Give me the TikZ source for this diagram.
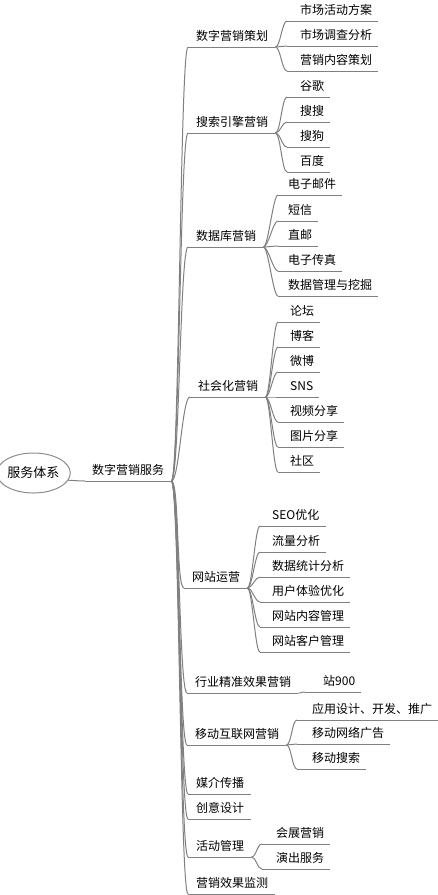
\documentclass[tikz,border=0pt]{standalone}
\usepackage{fontspec}
\newfontfamily\cjk{Noto Sans CJK SC}
\usetikzlibrary{shapes.geometric}
\definecolor{linegray}{RGB}{128,128,128}
\definecolor{rimgray}{RGB}{140,140,140}

\tikzset{
  wire/.style={draw=linegray, line width=1pt},
  link/.style={wire, to path={.. controls +(#1,0) and +(-#1,0) .. (\tikztotarget)}},
  link/.default=5,
  topic/.style 2 args={anchor=south west, inner xsep=0pt, inner ysep=6pt, text depth=0pt,
    font=\cjk\fontsize{12}{14}\selectfont,
    execute at begin node={\hspace*{#1pt}}, execute at end node={\hspace*{#2pt}},
    append after command={(\tikzlastnode.south west) edge[wire] (\tikzlastnode.south east)}},
  head/.style={topic={8}{7}},
  leaf/.style={topic={#1}{6}},
  leaf/.default=12,
}

\begin{document}
\begin{tikzpicture}[x=1pt,y=-1pt]
\useasboundingbox (0,0) rectangle (438,895);
% root
\node[draw=rimgray, line width=1pt, ellipse, minimum width=65pt, minimum height=40pt,
  inner sep=0pt, font=\cjk\fontsize{13}{15}\selectfont] (root) at (33.5,473) {服务体系};
\node[topic={7}{7}] (main) at (85,481) {数字营销服务};
\draw[link=7] (root.-12) to (main.south west);
% first level
\node[head] (b1) at (188,47) {数字营销策划};
\node[head] (b2) at (188,133) {搜索引擎营销};
\node[head] (b3) at (188,247) {数据库营销};
\node[head] (b4) at (190,397) {社会化营销};
\node[head] (b5) at (184,588) {网站运营};
\node[head] (b6) at (187,693) {行业精准效果营销};
\node[head] (b7) at (187,745) {移动互联网营销};
\node[head] (b8) at (188,794) {媒介传播};
\node[head] (b9) at (188,819) {创意设计};
\node[head] (b10) at (188,857) {活动管理};
\node[head] (b11) at (188,894) {营销效果监测};
\foreach \i in {1,...,11}
  \draw[link=8] (main.south east) to (b\i.south west);
% second level
\node[leaf=13] (b1a) at (287,21) {市场活动方案};
\node[leaf=13] (b1b) at (287,46) {市场调查分析};
\node[leaf=13] (b1c) at (287,71) {营销内容策划};
\foreach \j in {a,b,c}
  \draw[link] (b1.south east) to (b1\j.south west);

\node[leaf=13] (b2a) at (287,97) {谷歌};
\node[leaf=13] (b2b) at (287,122) {搜搜};
\node[leaf=13] (b2c) at (287,147) {搜狗};
\node[leaf=13] (b2d) at (287,172) {百度};
\foreach \j in {a,b,c,d}
  \draw[link] (b2.south east) to (b2\j.south west);

\node[leaf=10] (b3a) at (278,195) {电子邮件};
\node[leaf=10] (b3b) at (278,221) {短信};
\node[leaf=10] (b3c) at (278,246) {直邮};
\node[leaf=10] (b3d) at (278,271) {电子传真};
\node[leaf=10] (b3e) at (278,296) {数据管理与挖掘};
\foreach \j in {a,...,e}
  \draw[link] (b3.south east) to (b3\j.south west);

\node[leaf] (b4a) at (278,322) {论坛};
\node[leaf] (b4b) at (278,347) {博客};
\node[leaf] (b4c) at (278,372) {微博};
\node[leaf] (b4d) at (278,397) {SNS};
\node[leaf] (b4e) at (278,422) {视频分享};
\node[leaf] (b4f) at (278,447) {图片分享};
\node[leaf] (b4g) at (278,472) {社区};
\foreach \j in {a,...,g}
  \draw[link] (b4.south east) to (b4\j.south west);

\node[leaf] (b5a) at (260,526) {SEO优化};
\node[leaf] (b5b) at (260,552) {流量分析};
\node[leaf] (b5c) at (260,577) {数据统计分析};
\node[leaf] (b5d) at (260,602) {用户体验优化};
\node[leaf] (b5e) at (260,627) {网站内容管理};
\node[leaf] (b5f) at (260,652) {网站客户管理};
\foreach \j in {a,...,f}
  \draw[link] (b5.south east) to (b5\j.south west);

\node[leaf=18] (b6a) at (305,692) {站900};
\draw[link] (b6.south east) to (b6a.south west);

\node[leaf=15] (b7a) at (297,720) {应用设计、开发、推广};
\node[leaf=15] (b7b) at (297,744) {移动网络广告};
\node[leaf=15] (b7c) at (297,769) {移动搜索};
\foreach \j in {a,b,c}
  \draw[link] (b7.south east) to (b7\j.south west);

\node[leaf=14] (b10a) at (262,844) {会展营销};
\node[leaf=14] (b10b) at (262,869) {演出服务};
\foreach \j in {a,b}
  \draw[link] (b10.south east) to (b10\j.south west);
\end{tikzpicture}
\end{document}
